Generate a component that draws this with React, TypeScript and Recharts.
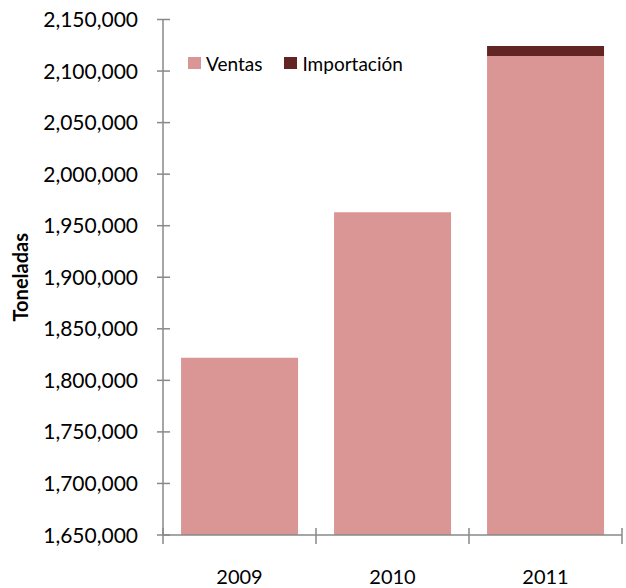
import React from 'react'
import { BarChart, Bar, XAxis, YAxis, Legend } from 'recharts'

const years = ['2009', '2010', '2011']
const ventas = [1822000, 1963000, 2114500]
const importacion = [0, 0, 9700]
const yTicks = [1650000, 1700000, 1750000, 1800000, 1850000, 1900000, 1950000, 2000000, 2050000, 2100000, 2150000]

const data = years.map((year, i) => ({
  year,
  ventas: ventas[i],
  importacion: importacion[i],
}))

const FONT = 'Lato, "Noto Sans", sans-serif'
const AXIS = '#898989'
const VENTAS_COLOR = '#D99694'
const IMPORT_COLOR = '#632523'

const W = 626
const H = 588
const LEFT = 163
const RIGHT = 4
const BAND = (W - LEFT - RIGHT) / years.length

function YTick(props: any) {
  const { x, y, payload } = props
  return (
    <g>
      <line x1={x - 6} x2={x + 7} y1={y} y2={y} stroke={AXIS} strokeWidth={1.5} />
      <text x={x - 25} y={y} dy="0.36em" textAnchor="end" fontSize={21} fontFamily={FONT} fill="#000">
        {payload.value.toLocaleString('en-US')}
      </text>
    </g>
  )
}

function XTick(props: any) {
  const { x, y, payload, index } = props
  return (
    <g>
      <line x1={x - BAND / 2} x2={x - BAND / 2} y1={y - 7} y2={y + 9} stroke={AXIS} strokeWidth={1.5} />
      {index === years.length - 1 && (
        <line x1={x + BAND / 2} x2={x + BAND / 2} y1={y - 7} y2={y + 9} stroke={AXIS} strokeWidth={1.5} />
      )}
      <text x={x} y={y + 42} dy="0.36em" textAnchor="middle" fontSize={20} fontFamily={FONT} fill="#000">
        {payload.value}
      </text>
    </g>
  )
}

function LegendContent() {
  const items = [
    { name: 'Ventas', color: VENTAS_COLOR },
    { name: 'Importación', color: IMPORT_COLOR },
  ]
  return (
    <div style={{ display: 'flex', alignItems: 'center', height: 20, fontFamily: FONT, fontSize: 19 }}>
      {items.map((it) => (
        <div key={it.name} style={{ display: 'flex', alignItems: 'center', marginRight: 22 }}>
          <span style={{ display: 'inline-block', width: 13, height: 12, background: it.color, marginRight: 5 }} />
          <span>{it.name}</span>
        </div>
      ))}
    </div>
  )
}

export default function App() {
  return (
    <div style={{ position: 'absolute', left: 0, top: 0, width: W, height: H }}>
      <BarChart
        width={W}
        height={H}
        data={data}
        margin={{ top: 19.5, right: RIGHT, bottom: 0, left: 0 }}
        barCategoryGap="11.8%"
      >
        <XAxis
          dataKey="year"
          height={53}
          axisLine={{ stroke: AXIS, strokeWidth: 1.5 }}
          tickLine={false}
          tickSize={0}
          tickMargin={0}
          tick={<XTick />}
          interval={0}
        />
        <YAxis
          width={LEFT}
          domain={[1650000, 2150000]}
          ticks={yTicks}
          allowDataOverflow
          axisLine={{ stroke: AXIS, strokeWidth: 1.5 }}
          tickLine={false}
          tickSize={0}
          tickMargin={0}
          tick={<YTick />}
          interval={0}
          label={(p: any) => {
            const vb = p.viewBox
            const cy = vb.y + vb.height / 2
            return (
              <text
                x={21}
                y={cy}
                transform={`rotate(-90, 21, ${cy})`}
                dy="0.36em"
                textAnchor="middle"
                fontSize={20}
                fontWeight="bold"
                fontFamily={FONT}
                fill="#000"
              >
                Toneladas
              </text>
            )
          }}
        />
        <Legend
          layout="horizontal"
          verticalAlign="middle"
          align="center"
          content={<LegendContent />}
          wrapperStyle={{ top: 53, left: 188, width: 320, height: 20 }}
        />
        <Bar dataKey="ventas" name="Ventas" stackId="a" fill={VENTAS_COLOR} isAnimationActive={false} />
        <Bar dataKey="importacion" name="Importación" stackId="a" fill={IMPORT_COLOR} isAnimationActive={false} />
      </BarChart>
    </div>
  )
}
